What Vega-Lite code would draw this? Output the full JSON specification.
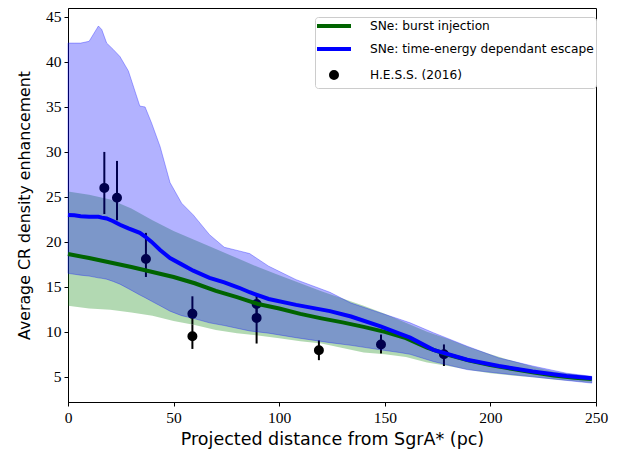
{
  "$schema": "https://vega.github.io/schema/vega-lite/v6.json",
  "width": 528,
  "height": 394,
  "autosize": {"type": "none"},
  "padding": {"left": 68, "top": 8, "right": 21, "bottom": 55},
  "background": "white",
  "config": {
    "view": {"stroke": "black", "strokeWidth": 1},
    "axis": {
      "grid": false,
      "domainColor": "black",
      "tickColor": "black",
      "tickSize": 4,
      "labelFont": "Liberation Serif",
      "labelFontSize": 15.5,
      "labelColor": "black",
      "titleFont": "DejaVu Sans",
      "titleFontWeight": "normal",
      "titleColor": "black"
    },
    "legend": {
      "title": null,
      "orient": "none",
      "legendX": 247,
      "legendY": 9,
      "padding": 2,
      "fillColor": "white",
      "strokeColor": "#cccccc",
      "cornerRadius": 3,
      "labelFont": "DejaVu Sans",
      "labelFontSize": 12.2,
      "labelColor": "black",
      "labelLimit": 0,
      "labelOffset": 29,
      "symbolOffset": 10,
      "rowPadding": 7,
      "symbolSize": 100,
      "symbolStrokeWidth": 4,
      "symbolOpacity": 1
    }
  },
  "datasets": {
    "green": [
      {"x": 0, "lo": 12.9, "hi": 25.6, "mid": 18.65},
      {"x": 10, "lo": 12.6, "hi": 25.25, "mid": 18.2},
      {"x": 20, "lo": 12.45, "hi": 24.7, "mid": 17.7},
      {"x": 30, "lo": 12.15, "hi": 23.7, "mid": 17.2},
      {"x": 40, "lo": 11.8, "hi": 22.4, "mid": 16.65},
      {"x": 50, "lo": 11.2, "hi": 21.2, "mid": 16.1},
      {"x": 60, "lo": 10.75, "hi": 20.2, "mid": 15.4},
      {"x": 70, "lo": 10.2, "hi": 19.2, "mid": 14.55},
      {"x": 80, "lo": 9.85, "hi": 18.2, "mid": 13.85},
      {"x": 90, "lo": 9.6, "hi": 17.2, "mid": 13.1},
      {"x": 100, "lo": 9.3, "hi": 16.3, "mid": 12.6},
      {"x": 110, "lo": 8.95, "hi": 15.4, "mid": 12.0},
      {"x": 120, "lo": 8.7, "hi": 14.5, "mid": 11.5},
      {"x": 130, "lo": 8.2, "hi": 13.7, "mid": 11.05},
      {"x": 140, "lo": 7.7, "hi": 12.9, "mid": 10.55},
      {"x": 150, "lo": 7.5, "hi": 12.0, "mid": 10.0},
      {"x": 160, "lo": 7.2, "hi": 11.0, "mid": 9.3},
      {"x": 170, "lo": 6.6, "hi": 10.0, "mid": 8.25},
      {"x": 180, "lo": 6.2, "hi": 9.2, "mid": 7.45},
      {"x": 190, "lo": 5.75, "hi": 8.3, "mid": 6.8},
      {"x": 200, "lo": 5.4, "hi": 7.5, "mid": 6.3},
      {"x": 210, "lo": 5.15, "hi": 6.8, "mid": 5.9},
      {"x": 220, "lo": 4.95, "hi": 6.15, "mid": 5.5},
      {"x": 230, "lo": 4.7, "hi": 5.6, "mid": 5.15},
      {"x": 240, "lo": 4.5, "hi": 5.25, "mid": 4.9},
      {"x": 248, "lo": 4.3, "hi": 5.0, "mid": 4.75}
    ],
    "blue": [
      {"x": 0, "lo": 16.5, "hi": 42.1, "mid": 23.0},
      {"x": 3, "lo": 16.4, "hi": 42.1, "mid": 22.95},
      {"x": 6, "lo": 16.3, "hi": 42.1, "mid": 22.85},
      {"x": 10, "lo": 16.2, "hi": 42.3, "mid": 22.8},
      {"x": 14.4, "lo": 16.0, "hi": 44.0, "mid": 22.8},
      {"x": 16, "lo": 15.95, "hi": 43.6, "mid": 22.7},
      {"x": 18.3, "lo": 15.85, "hi": 42.1, "mid": 22.6},
      {"x": 21.4, "lo": 15.6, "hi": 41.4, "mid": 22.3},
      {"x": 24.6, "lo": 15.3, "hi": 40.6, "mid": 21.9},
      {"x": 28.6, "lo": 14.8, "hi": 39.0, "mid": 21.5},
      {"x": 34, "lo": 14.1, "hi": 35.1, "mid": 21.0},
      {"x": 36.5, "lo": 13.8, "hi": 35.0, "mid": 20.6},
      {"x": 39.6, "lo": 13.4, "hi": 33.2, "mid": 20.0},
      {"x": 43.6, "lo": 12.9, "hi": 30.6, "mid": 19.1},
      {"x": 48.3, "lo": 12.3, "hi": 26.6, "mid": 18.2},
      {"x": 53.8, "lo": 11.8, "hi": 24.3, "mid": 17.5},
      {"x": 59.3, "lo": 11.5, "hi": 23.0, "mid": 16.8},
      {"x": 67, "lo": 11.0, "hi": 20.8, "mid": 16.0},
      {"x": 74, "lo": 10.7, "hi": 19.4, "mid": 15.5},
      {"x": 81, "lo": 10.35, "hi": 19.0, "mid": 14.9},
      {"x": 86, "lo": 10.1, "hi": 18.7, "mid": 14.4},
      {"x": 95, "lo": 9.85, "hi": 17.3, "mid": 13.65},
      {"x": 108, "lo": 9.35, "hi": 15.8, "mid": 13.0},
      {"x": 124, "lo": 8.8, "hi": 14.4, "mid": 12.3},
      {"x": 134, "lo": 8.5, "hi": 13.2, "mid": 11.7},
      {"x": 148, "lo": 8.0, "hi": 12.1, "mid": 10.6},
      {"x": 157, "lo": 7.7, "hi": 11.4, "mid": 9.8},
      {"x": 162, "lo": 7.5, "hi": 11.0, "mid": 9.35},
      {"x": 173, "lo": 6.7, "hi": 9.9, "mid": 8.0},
      {"x": 189, "lo": 5.8, "hi": 8.4, "mid": 6.9},
      {"x": 204, "lo": 5.4, "hi": 7.1, "mid": 6.2},
      {"x": 220, "lo": 5.0, "hi": 6.2, "mid": 5.6},
      {"x": 236, "lo": 4.6, "hi": 5.4, "mid": 5.1},
      {"x": 248, "lo": 4.3, "hi": 5.05, "mid": 4.85}
    ],
    "hess": [
      {"x": 17.2, "y": 26.0, "lo": 23.1, "hi": 30.0},
      {"x": 23.2, "y": 24.9, "lo": 22.4, "hi": 29.0},
      {"x": 36.9, "y": 18.1, "lo": 16.1, "hi": 21.0},
      {"x": 58.9, "y": 12.0, "lo": 10.8, "hi": 13.95},
      {"x": 58.9, "y": 9.5, "lo": 8.1, "hi": 10.8},
      {"x": 89.3, "y": 13.1, "lo": 11.5, "hi": 14.0},
      {"x": 89.3, "y": 11.55, "lo": 8.7, "hi": 13.1},
      {"x": 118.8, "y": 7.95, "lo": 6.85, "hi": 9.05},
      {"x": 148.2, "y": 8.6, "lo": 7.6, "hi": 9.7},
      {"x": 178.0, "y": 7.5, "lo": 6.2, "hi": 8.6}
    ]
  },
  "encoding": {
    "x": {
      "field": "x",
      "type": "quantitative",
      "scale": {"domain": [0, 250], "nice": false, "zero": false},
      "axis": {"values": [0, 50, 100, 150, 200, 250], "title": "Projected distance from SgrA* (pc)", "titleFontSize": 17.5, "labelPadding": 4, "titlePadding": 5, "labelFlush": false}
    }
  },
  "layer": [
    {
      "data": {"name": "green"},
      "mark": {"type": "area", "color": "#008000", "opacity": 0.3},
      "encoding": {
        "y": {
          "field": "lo",
          "type": "quantitative",
          "scale": {"domain": [2.2, 46.0], "nice": false, "zero": false},
          "axis": {"values": [5, 10, 15, 20, 25, 30, 35, 40, 45], "title": "Average CR density enhancement", "titleFontSize": 15.8, "labelPadding": 3, "titlePadding": 13}
        },
        "y2": {"field": "hi"}
      }
    },
    {
      "data": {"name": "hess"},
      "mark": {"type": "rule", "color": "black", "strokeWidth": 2},
      "encoding": {
        "y": {"field": "lo", "type": "quantitative"},
        "y2": {"field": "hi"}
      }
    },
    {
      "data": {"name": "hess"},
      "mark": {"type": "point", "filled": false, "fill": "black", "fillOpacity": 1, "strokeWidth": 4, "size": 100, "opacity": 1},
      "encoding": {
        "y": {"field": "y", "type": "quantitative"},
        "color": {
          "datum": "H.E.S.S. (2016)",
          "type": "nominal",
          "scale": {"domain": ["SNe: burst injection", "SNe: time-energy dependant escape", "H.E.S.S. (2016)"], "range": ["#006400", "#0000ff", "black"]}
        },
        "shape": {
          "datum": "H.E.S.S. (2016)",
          "type": "nominal",
          "scale": {"domain": ["SNe: burst injection", "SNe: time-energy dependant escape", "H.E.S.S. (2016)"], "range": ["M-3.4,0H3.4", "M-3.4,0H3.4", "M-0.6,0A0.6,0.6,0,1,1,0.6,0A0.6,0.6,0,1,1,-0.6,0Z"]}
        }
      }
    },
    {
      "data": {"name": "blue"},
      "mark": {"type": "area", "color": "#0000ff", "fillOpacity": 0.3, "stroke": "#0000ff", "strokeOpacity": 0.3, "strokeWidth": 1},
      "encoding": {
        "y": {"field": "lo", "type": "quantitative"},
        "y2": {"field": "hi"}
      }
    },
    {
      "data": {"name": "green"},
      "mark": {"type": "line", "strokeWidth": 4, "color": "#006400"},
      "encoding": {
        "y": {"field": "mid", "type": "quantitative"}
      }
    },
    {
      "data": {"name": "blue"},
      "mark": {"type": "line", "strokeWidth": 4, "color": "#0000ff"},
      "encoding": {
        "y": {"field": "mid", "type": "quantitative"}
      }
    }
  ]
}
